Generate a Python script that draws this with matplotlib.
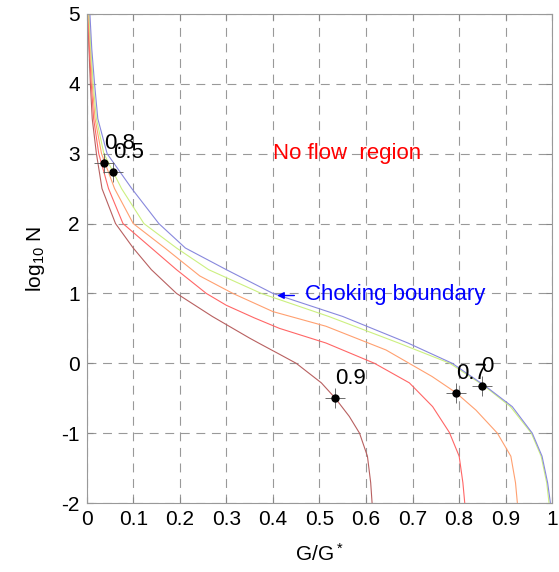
import matplotlib
matplotlib.use('Agg')
import matplotlib.pyplot as plt

plt.rcParams['font.family'] = ['Liberation Sans', 'DejaVu Sans']
plt.rcParams['mathtext.default'] = 'regular'
plt.rcParams['axes.unicode_minus'] = False

# curves: G/G* (x) against log10 N (y)
blue_y = [5, 4.5, 4, 3.5, 3, 2.5, 2.0, 1.65, 1.34, 1.0, 0.67, 0.29, 0, -0.33, -0.62, -1.0, -1.33, -1.71, -2]
blue_x = [0.007, 0.011, 0.017, 0.024, 0.044, 0.097, 0.155, 0.212, 0.30, 0.40, 0.55, 0.69, 0.785, 0.857, 0.914, 0.957, 0.978, 0.99, 0.996]

green_y = [5, 4.5, 4, 3.5, 3, 2.5, 2.0, 1.65, 1.34, 1.0, 0.67, 0.29, 0, -0.33, -0.62, -1.0, -1.33, -1.71, -2]
green_x = [0.005, 0.009, 0.014, 0.021, 0.037, 0.075, 0.123, 0.193, 0.262, 0.375, 0.52, 0.67, 0.78, 0.855, 0.91, 0.955, 0.976, 0.988, 0.993]

orange_y = [5, 4.5, 4, 3.5, 3, 2.5, 2.0, 1.65, 1.25, 1.0, 0.74, 0.53, 0.19, -0.19, -0.42, -0.67, -1.0, -1.33, -1.71, -2]
orange_x = [0.004, 0.008, 0.012, 0.018, 0.032, 0.06, 0.10, 0.168, 0.243, 0.314, 0.40, 0.514, 0.643, 0.742, 0.793, 0.836, 0.882, 0.911, 0.921, 0.925]

red_y = [5, 4.5, 4, 3.5, 3, 2.5, 2.0, 1.65, 1.34, 1.0, 0.83, 0.65, 0.50, 0.29, 0, -0.28, -0.62, -0.99, -1.33, -1.71, -2]
red_x = [0.003, 0.006, 0.01, 0.015, 0.026, 0.047, 0.078, 0.139, 0.193, 0.257, 0.30, 0.36, 0.414, 0.514, 0.618, 0.693, 0.743, 0.779, 0.80, 0.808, 0.812]

brown_y = [5, 4.5, 4, 3.5, 3, 2.5, 2.0, 1.65, 1.34, 1.0, 0.67, 0.36, 0.28, 0.13, 0, -0.28, -0.5, -0.76, -1.0, -1.33, -1.71, -2]
brown_x = [0.002, 0.005, 0.008, 0.012, 0.021, 0.033, 0.062, 0.10, 0.139, 0.193, 0.27, 0.35, 0.372, 0.414, 0.45, 0.504, 0.534, 0.564, 0.586, 0.603, 0.61, 0.613]

# marked points and their labels
pt_labels = ['0.8', '0.5', '0.9', '0.7', '0']
pt_x = [0.038, 0.056, 0.534, 0.794, 0.848]
pt_y = [2.86, 2.74, -0.50, -0.42, -0.32]

xticks = [0, 0.1, 0.2, 0.3, 0.4, 0.5, 0.6, 0.7, 0.8, 0.9, 1]
xtick_labels = ['0', '0.1', '0.2', '0.3', '0.4', '0.5', '0.6', '0.7', '0.8', '0.9', '1']
yticks = [-2, -1, 0, 1, 2, 3, 4, 5]

fig = plt.figure(figsize=(5.59, 5.72), dpi=100)
ax = fig.add_axes([0.155, 0.1206, 0.833, 0.855])

ax.plot(brown_x, brown_y, color='#b86060', lw=0.8)
ax.plot(red_x, red_y, color='#ff6666', lw=0.8)
ax.plot(orange_x, orange_y, color='#ffa070', lw=0.8)
ax.plot(green_x, green_y, color='#ccf080', lw=0.8)
ax.plot(blue_x, blue_y, color='#8888dd', lw=0.8)

ax.plot(pt_x, pt_y, '+', color='#555555', ms=14, mew=0.6)
ax.plot(pt_x, pt_y, 'o', color='black', ms=5)
for lab, x, y in zip(pt_labels, pt_x, pt_y):
    ax.text(x, y + 0.28, lab, fontsize=16, va='center', ha='left')

ax.text(0.40, 3.0, 'No flow  region', color='red', fontsize=16, va='center')
ax.annotate('', xy=(0.403, 0.97), xytext=(0.452, 0.97),
            arrowprops=dict(arrowstyle='-|>', color='blue', lw=1, mutation_scale=10))
ax.text(0.468, 0.98, 'Choking boundary', color='blue', fontsize=16, va='center')

ax.set_xlim(0, 1)
ax.set_ylim(-2, 5)
ax.set_xticks(xticks)
ax.set_xticklabels(xtick_labels)
ax.set_yticks(yticks)
ax.tick_params(direction='in', length=4, labelsize=15, color='#888888', pad=5,
               top=True, right=True)
for s in ax.spines.values():
    s.set_color('#999999')
ax.grid(True, color='#999999', linestyle=(0, (8, 6)), lw=0.8)

ax.set_xlabel('G/G$^*$', fontsize=15, labelpad=10)
ax.set_ylabel('log$_{10}$ N', fontsize=15, labelpad=10)

fig.savefig('out.png')
